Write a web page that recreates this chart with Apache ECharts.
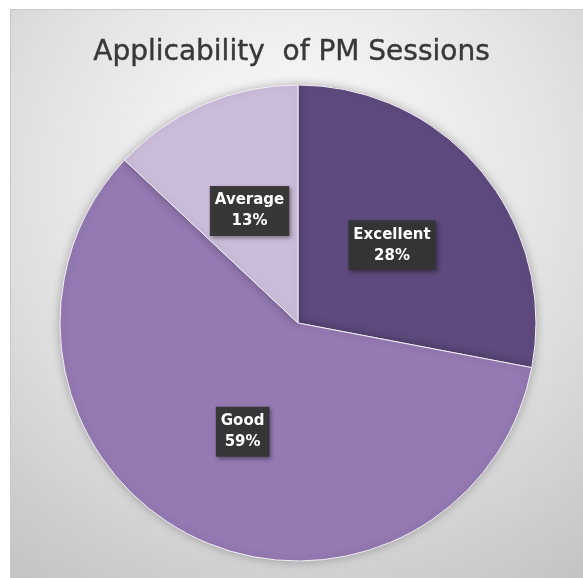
<!DOCTYPE html>
<html>
<head>
<meta charset="utf-8">
<script src="https://cdn.jsdelivr.net/npm/echarts@6/dist/echarts.min.js"></script>
<style>
  html, body { margin: 0; padding: 0; background: #fff; }
  #chart-panel { width: 583px; height: 578px; }
</style>
</head>
<body>
<div id="chart-panel"></div>
<script>
// pie data
const categories = ['Excellent', 'Good', 'Average'];
const values = [28, 59, 13];
const sliceColors = ['#5e4a7e', '#9479b2', '#cbbcda'];

var myChart = echarts.init(document.getElementById('chart-panel'));

const data = categories.map(function (name, i) {
  return { name: name, value: values[i], itemStyle: { color: sliceColors[i] } };
});

myChart.setOption({
  animation: false,
  graphic: [
    {
      type: 'rect',
      left: 10,
      top: 9,
      z: -10,
      shape: { width: 573, height: 569 },
      style: {
        fill: {
          type: 'radial', x: 0.5, y: 0.3, r: 0.85,
          colorStops: [
            { offset: 0, color: '#ffffff' },
            { offset: 0.55, color: '#e2e2e2' },
            { offset: 1, color: '#c4c4c4' }
          ]
        },
        stroke: '#c9c9c9',
        lineWidth: 1
      }
    }
  ],
  title: {
    text: 'Applicability  of PM Sessions',
    left: 'center',
    top: 34,
    textStyle: {
      fontFamily: 'DejaVu Sans',
      fontSize: 28,
      fontWeight: 'normal',
      color: '#383838',
      textBorderColor: '#383838',
      textBorderWidth: 0.4
    }
  },
  series: [
    {
      type: 'pie',
      center: [298, 323],
      radius: 238,
      startAngle: 90,
      clockwise: true,
      data: data,
      itemStyle: {
        borderColor: '#f4f0f8',
        borderWidth: 1,
        shadowBlur: 10,
        shadowColor: 'rgba(0, 0, 0, 0.25)'
      },
      label: {
        show: true,
        position: 'inner',
        formatter: '{b}\n{d}%',
        fontFamily: 'DejaVu Sans',
        fontSize: 15,
        fontWeight: 'bold',
        lineHeight: 21,
        color: '#ffffff',
        backgroundColor: 'rgba(52, 52, 52, 0.95)',
        padding: [4, 5, 4, 5],
        shadowBlur: 4,
        shadowOffsetX: 2,
        shadowOffsetY: 2,
        shadowColor: 'rgba(0, 0, 0, 0.4)'
      },
      labelLine: { show: false },
      emphasis: { disabled: true }
    }
  ]
});
</script>
</body>
</html>
